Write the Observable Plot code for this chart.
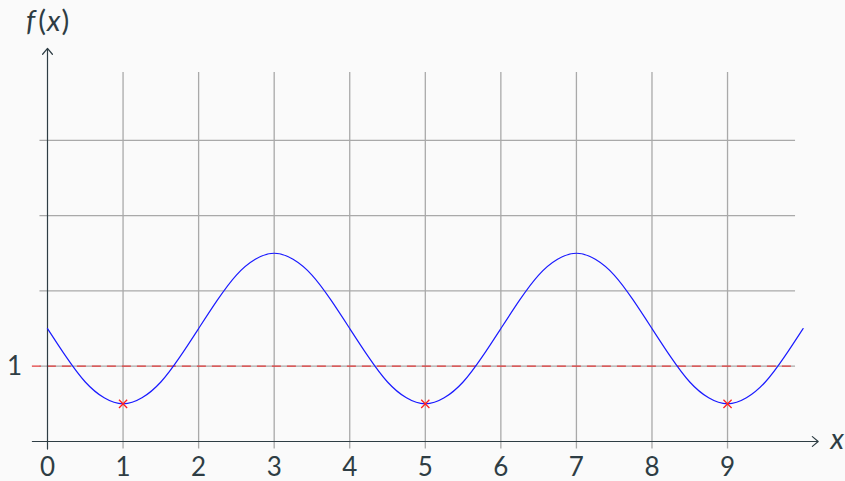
<!DOCTYPE html>
<html>
<head>
<meta charset="utf-8">
<script src="https://cdn.jsdelivr.net/npm/d3@7"></script>
<script src="https://cdn.jsdelivr.net/npm/@observablehq/plot@0.6"></script>
<style>
  html, body { margin: 0; padding: 0; background: #fafafa; }
  svg { display: block; }
</style>
</head>
<body>
<div id="chart"></div>
<script>
// Curve samples
const curveX = [0,0.25,0.5,0.75,1,1.25,1.5,1.75,2,2.25,2.5,2.75,3,3.25,3.5,3.75,4,4.25,4.5,4.75,5,5.25,5.5,5.75,6,6.25,6.5,6.75,7,7.25,7.5,7.75,8,8.25,8.5,8.75,9,9.25,9.5,9.75,10];
const curveY = [1.5,1.12,0.79,0.58,0.5,0.58,0.79,1.12,1.5,1.88,2.21,2.42,2.5,2.42,2.21,1.88,1.5,1.12,0.79,0.58,0.5,0.58,0.79,1.12,1.5,1.88,2.21,2.42,2.5,2.42,2.21,1.88,1.5,1.12,0.79,0.58,0.5,0.58,0.79,1.12,1.5];
// Minimum markers
const minX = [1, 5, 9];
const minY = [0.5, 0.5, 0.5];
// Reference level
const refLevel = [1];
// Grid and tick labels
const xGrid = [1,2,3,4,5,6,7,8,9];
const yGrid = [1,2,3,4];
const xTickLabels = [0,1,2,3,4,5,6,7,8,9];
const yTickLabels = [1];

const curve = curveX.map((x, i) => ({x, y: curveY[i]}));
const minima = minX.map((x, i) => ({x, y: minY[i]}));

const axisColor = "#2e3d44";
const gridColor = "#a9a9a9";
const font = "Lato, Open Sans, sans-serif";

const plot = Plot.plot({
  width: 845,
  height: 481,
  margin: 0,
  style: {background: "#fafafa", fontFamily: font, overflow: "visible"},
  x: {domain: [0, 10], range: [47, 802.6], axis: null},
  y: {domain: [0, 5], range: [441, 64.5], axis: null},
  marks: [
    // grid
    Plot.ruleY(yGrid, {y: d => d, x1: -0.1, x2: 9.9, stroke: gridColor, strokeWidth: 1.3}),
    Plot.ruleX(xGrid, {x: d => d, y1: -0.1, y2: 4.9, stroke: gridColor, strokeWidth: 1.3}),
    // reference dashed line
    Plot.ruleY(refLevel, {y: d => d, x1: -0.2, x2: 9.9, stroke: "#e23c3c", strokeWidth: 1.3, strokeDasharray: "9,6"}),
    // axes
    Plot.arrow([{x1: -0.2, y1: 0, x2: 10.2, y2: 0}], {x1: "x1", y1: "y1", x2: "x2", y2: "y2", stroke: axisColor, strokeWidth: 1.2, headLength: 9.5, headAngle: 80}),
    Plot.arrow([{x1: 0, y1: -0.1, x2: 0, y2: 5.22}], {x1: "x1", y1: "y1", x2: "x2", y2: "y2", stroke: axisColor, strokeWidth: 1.2, headLength: 9.5, headAngle: 80}),
    // curve
    Plot.line(curve, {x: "x", y: "y", stroke: "#1a1aff", strokeWidth: 1.2, curve: "natural"}),
    // minima
    Plot.dot(minima, {x: "x", y: "y", symbol: "times", r: 3.8, stroke: "#ff2020", strokeWidth: 1.3}),
    // tick labels
    Plot.text(xTickLabels, {x: d => d, y: 0, text: d => String(d), dy: 26, fontSize: 26, fill: axisColor}),
    Plot.text(yTickLabels, {y: d => d, x: 0, text: d => String(d), dx: -33, fontSize: 26, fill: axisColor}),
    // axis titles
    Plot.text(["f(x)"], {x: 0, y: 5.22, dy: -27, text: d => d, fontSize: 29, fill: axisColor, className: "ftitle"}),
    Plot.text(["x"], {x: 10.2, y: 0, dx: 19, dy: -2, text: d => d, fontSize: 29, fontStyle: "italic", fill: axisColor})
  ]
});

// render the f(x) title with italic letters and upright parentheses
d3.select(plot).selectAll(".ftitle text").each(function() {
  const t = d3.select(this);
  t.text(null);
  t.append("tspan").attr("font-style", "italic").text("f");
  t.append("tspan").attr("dx", 3).text("(");
  t.append("tspan").attr("font-style", "italic").attr("dx", 1).text("x");
  t.append("tspan").attr("dx", 1).text(")");
});

document.getElementById("chart").appendChild(plot);
</script>
</body>
</html>
